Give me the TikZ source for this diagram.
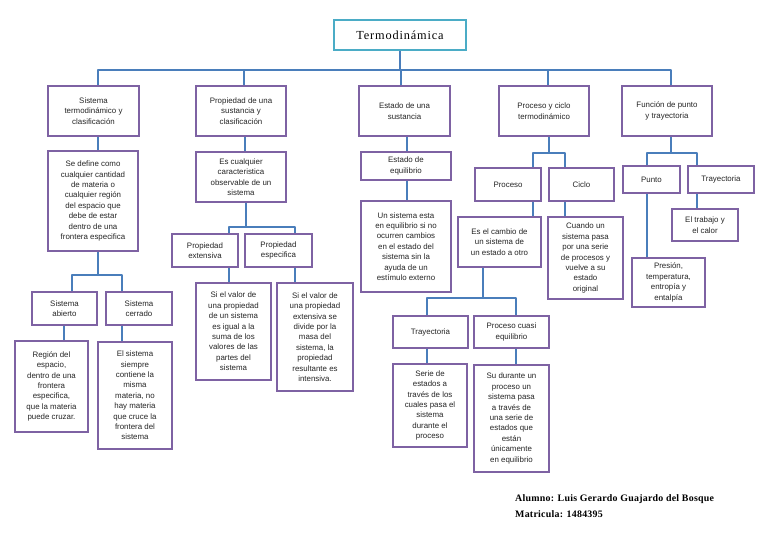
\documentclass[tikz,border=0pt]{standalone}
\usepackage{fontspec}
\setmainfont{Liberation Sans}
\newfontfamily\titlefont[LetterSpace=7]{Liberation Serif}
\newfontfamily\footfont[LetterSpace=2.5]{Liberation Serif}
\definecolor{connblue}{HTML}{4A7EBB}
\definecolor{boxpurple}{HTML}{7E62A3}
\definecolor{titlecyan}{HTML}{4BACC6}
\definecolor{txtgray}{HTML}{262626}
\tikzset{
  box/.style={draw=boxpurple, line width=1.5pt, fill=white, inner sep=0pt,
    align=center, text=txtgray, font=\fontsize{7.9}{10.4}\selectfont},
  titlebox/.style={draw=titlecyan, line width=1.5pt, fill=white, inner sep=0pt,
    align=center, text=black, font=\titlefont\fontsize{12.3}{14}\selectfont},
  conn/.style={draw=connblue, line width=2.6pt, line join=round}
}
% #1 extra style, #2 name, #3 left, #4 top, #5 right, #6 bottom
\newcommand\mkbox[6][]{%
  \pgfmathsetmacro\bw{#5-#3}\pgfmathsetmacro\bh{#6-#4}%
  \pgfmathsetmacro\bcx{(#3+#5)/2}\pgfmathsetmacro\bcy{(#4+#6)/2}%
  \node[box,#1,minimum width=\bw pt,minimum height=\bh pt] (#2) at (\bcx,\bcy)}
\begin{document}
\begin{tikzpicture}[x=1pt,y=-1pt]
\useasboundingbox[fill=white] (0,0) rectangle (768,543);
% title and top level
\mkbox[titlebox]{title}{334}{20}{466}{50} {Termodinámica};
\mkbox{t1}{48}{86}{139}{136} {Sistema\\termodinámico y\\clasificación};
\mkbox{t2}{196}{86}{286}{136} {Propiedad de una\\sustancia y\\clasificación};
\mkbox{t3}{359}{86}{450}{136} {Estado de una\\sustancia};
\mkbox{t4}{499}{86}{589}{136} {Proceso y ciclo\\termodinámico};
\mkbox{t5}{622}{86}{712}{136} {Función de punto\\y trayectoria};
% column 1
\mkbox{def1}{48}{151}{138}{251} {Se define como\\cualquier cantidad\\de materia o\\cualquier región\\del espacio que\\debe de estar\\dentro de una\\frontera especifica};
\mkbox{abierto}{32}{292}{97}{325} {Sistema\\abierto};
\mkbox{cerrado}{106}{292}{172}{325} {Sistema\\cerrado};
\mkbox{region}{15}{341}{88}{432} {Región del\\espacio,\\dentro de una\\frontera\\especifica,\\que la materia\\puede cruzar.};
\mkbox{siempre}{98}{342}{172}{449} {El sistema\\siempre\\contiene la\\misma\\materia, no\\hay materia\\que cruce la\\frontera del\\sistema};
% column 2
\mkbox{cual}{196}{152}{286}{202} {Es cualquier\\caracteristica\\observable de un\\sistema};
\mkbox{ext}{172}{234}{238}{267} {Propiedad\\extensiva};
\mkbox{esp}{245}{234}{312}{267} {Propiedad\\especifica};
\mkbox{val1}{196}{283}{271}{380} {Si el valor de\\una propiedad\\de un sistema\\es igual a la\\suma de los\\valores de las\\partes del\\sistema};
\mkbox{val2}{277}{283}{353}{391} {Si el valor de\\una propiedad\\extensiva se\\divide por la\\masa del\\sistema, la\\propiedad\\resultante es\\intensiva.};
% column 3
\mkbox{eqb}{361}{152}{451}{180} {Estado de\\equilibrio};
\mkbox{esta}{361}{201}{451}{292} {Un sistema esta\\en equilibrio si no\\ocurren cambios\\en el estado del\\sistema sin la\\ayuda de un\\estímulo externo};
% column 4
\mkbox{proc}{475}{168}{541}{201} {Proceso};
\mkbox{ciclo}{549}{168}{614}{201} {Ciclo};
\mkbox{cambio}{458}{217}{541}{267} {Es el cambio de\\un sistema de\\un estado a otro};
\mkbox{cuando}{548}{217}{623}{299} {Cuando un\\sistema pasa\\por una serie\\de procesos y\\vuelve a su\\estado\\original};
\mkbox{tray}{393}{316}{468}{348} {Trayectoria};
\mkbox{cuasi}{474}{316}{549}{348} {Proceso cuasi\\equilibrio};
\mkbox{serie}{393}{364}{467}{447} {Serie de\\estados a\\través de los\\cuales pasa el\\sistema\\durante el\\proceso};
\mkbox{su}{474}{365}{549}{472} {Su durante un\\proceso un\\sistema pasa\\a través de\\una serie de\\estados que\\están\\únicamente\\en equilibrio};
% column 5
\mkbox{punto}{623}{166}{680}{193} {Punto};
\mkbox{tray2}{688}{166}{754}{193} {Trayectoria};
\mkbox{pres}{632}{258}{705}{307} {Presión,\\temperatura,\\entropía y\\entalpía};
\mkbox{trab}{672}{209}{738}{241} {El trabajo y\\el calor};
% footer
\node[anchor=north west, align=left, inner sep=0pt, text=black,
  font=\footfont\bfseries\fontsize{9.9}{16}\selectfont] (foot) at (515,494)
  {Alumno: Luis Gerardo Guajardo del Bosque\\Matricula: 1484395};
% connectors, top level
\draw[conn] (title.south) -- (title.south |- 0,70);
\draw[conn] (t1.north -| 98,0) -- (98,70) -- (671,70) -- (t5.north -| 671,0);
\draw[conn] (t2.north -| 244,0) -- (244,70);
\draw[conn] (t3.north -| 401,0) -- (401,70);
\draw[conn] (t4.north -| 548,0) -- (548,70);
% column 1
\draw[conn] (t1.south -| 98,0) -- (def1.north -| 98,0);
\draw[conn] (def1.south -| 98,0) -- (98,275) -| (abierto.north -| 72,0);
\draw[conn] (98,275) -| (cerrado.north -| 122,0);
\draw[conn] (abierto.south -| 64,0) -- (region.north -| 64,0);
\draw[conn] (cerrado.south -| 122,0) -- (siempre.north -| 122,0);
% column 2
\draw[conn] (t2.south -| 245,0) -- (cual.north -| 245,0);
\draw[conn] (cual.south -| 246,0) -- (246,227) -| (ext.north -| 229,0);
\draw[conn] (246,227) -| (esp.north -| 295,0);
\draw[conn] (ext.south -| 229,0) -- (val1.north -| 229,0);
\draw[conn] (esp.south -| 295,0) -- (val2.north -| 295,0);
% column 3
\draw[conn] (t3.south -| 407,0) -- (eqb.north -| 407,0);
\draw[conn] (eqb.south -| 407,0) -- (esta.north -| 407,0);
% column 4
\draw[conn] (t4.south -| 549,0) -- (549,153) -| (proc.north -| 533,0);
\draw[conn] (549,153) -| (ciclo.north -| 565,0);
\draw[conn] (proc.south -| 533,0) -- (cambio.north -| 533,0);
\draw[conn] (ciclo.south -| 565,0) -- (cuando.north -| 565,0);
\draw[conn] (cambio.south -| 483,0) -- (483,298) -| (tray.north -| 427,0);
\draw[conn] (483,298) -| (cuasi.north -| 516,0);
\draw[conn] (tray.south -| 427,0) -- (serie.north -| 427,0);
\draw[conn] (cuasi.south -| 516,0) -- (su.north -| 516,0);
% column 5
\draw[conn] (t5.south -| 671,0) -- (671,153) -| (punto.north -| 647,0);
\draw[conn] (671,153) -| (tray2.north -| 697,0);
\draw[conn] (punto.south -| 647,0) -- (pres.north -| 647,0);
\draw[conn] (tray2.south -| 697,0) -- (trab.north -| 697,0);
\end{tikzpicture}
\end{document}
